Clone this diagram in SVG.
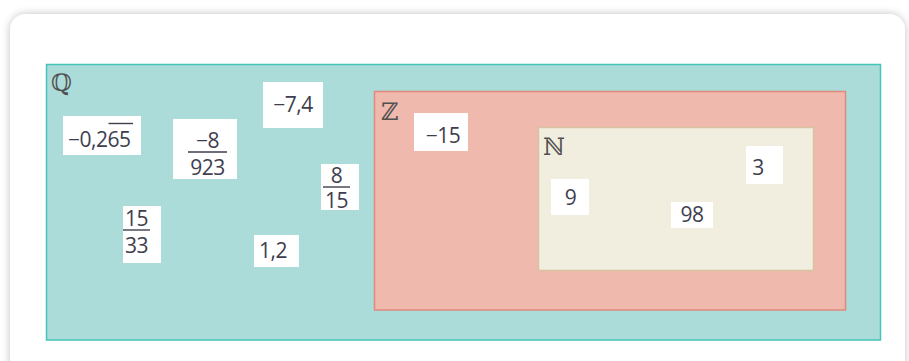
<svg xmlns="http://www.w3.org/2000/svg" width="909" height="361" viewBox="0 0 909 361">
  <defs>
    <filter id="shadow" x="-5%" y="-10%" width="110%" height="120%">
      <feGaussianBlur in="SourceAlpha" stdDeviation="4"/>
      <feComponentTransfer><feFuncA type="linear" slope="0.25"/></feComponentTransfer>
      <feMerge><feMergeNode/><feMergeNode in="SourceGraphic"/></feMerge>
    </filter>
    <style>
      .box { fill: #ffffff; stroke: none; }
      .num { font-family: "Open Sans", "Noto Sans", "Liberation Sans", sans-serif; font-size: 21px; letter-spacing: -0.5px; fill: #3e3e4e; }
      .mid { text-anchor: middle; }
      .frac { stroke: #3e3e4e; stroke-width: 1.4; }
      .set { font-family: "DejaVu Serif", "Liberation Serif", serif; font-size: 24px; fill: #505050; }
    </style>
  </defs>
  <rect x="0" y="0" width="909" height="361" fill="#ffffff"/>
  <rect x="10" y="14" width="895" height="370" rx="16" fill="#ffffff" filter="url(#shadow)"/>

  <g id="set-Q">
    <rect x="46.5" y="64.5" width="834" height="275.5" fill="#abdcd9" stroke="#45c4ba" stroke-width="1.5"/>
    <text class="set" x="51" y="91">ℚ</text>
  </g>
  <g id="set-Z">
    <rect x="374.5" y="91.5" width="471" height="218.5" fill="#f0b9ad" stroke="#e08a7e" stroke-width="1.5"/>
    <text class="set" x="381" y="120">ℤ</text>
  </g>
  <g id="set-N">
    <rect x="538.5" y="127.5" width="275" height="143" fill="#f2eedf" stroke="#d7c39f" stroke-width="1.5"/>
    <text class="set" x="543" y="155">ℕ</text>
  </g>

  <g id="n-0265">
    <rect class="box" x="63" y="116" width="78" height="39"/>
    <text class="num" x="68" y="147">−0,265</text>
    <line class="frac" x1="108.5" y1="123.5" x2="133" y2="123.5"/>
  </g>
  <g id="n-8-923">
    <rect class="box" x="173" y="119" width="64" height="60"/>
    <text class="num mid" x="207.5" y="148">−8</text>
    <line class="frac" x1="188" y1="152" x2="227" y2="152"/>
    <text class="num mid" x="207.5" y="175">923</text>
  </g>
  <g id="n-74">
    <rect class="box" x="263" y="82" width="60" height="46"/>
    <text class="num mid" x="293" y="112">−7,4</text>
  </g>
  <g id="n-8-15">
    <rect class="box" x="321" y="164" width="38" height="46"/>
    <text class="num mid" x="336.5" y="183">8</text>
    <line class="frac" x1="323" y1="187" x2="350" y2="187"/>
    <text class="num mid" x="336.5" y="208">15</text>
  </g>
  <g id="n-15-33">
    <rect class="box" x="123" y="206" width="38" height="57"/>
    <text class="num mid" x="136.5" y="226">15</text>
    <line class="frac" x1="123" y1="230" x2="150" y2="230"/>
    <text class="num mid" x="136.5" y="253">33</text>
  </g>
  <g id="n-12">
    <rect class="box" x="254" y="235" width="45" height="32"/>
    <text class="num mid" x="273" y="258">1,2</text>
  </g>
  <g id="n-m15">
    <rect class="box" x="414" y="113" width="54" height="38"/>
    <text class="num mid" x="443" y="143">−15</text>
  </g>
  <g id="n-9">
    <rect class="box" x="551" y="179" width="38" height="36"/>
    <text class="num mid" x="570.5" y="205">9</text>
  </g>
  <g id="n-98">
    <rect class="box" x="671" y="202" width="42" height="26"/>
    <text class="num mid" x="692" y="222">98</text>
  </g>
  <g id="n-3">
    <rect class="box" x="746" y="146" width="37" height="38"/>
    <text class="num mid" x="758" y="175">3</text>
  </g>
  <g id="connectors"/>
</svg>
